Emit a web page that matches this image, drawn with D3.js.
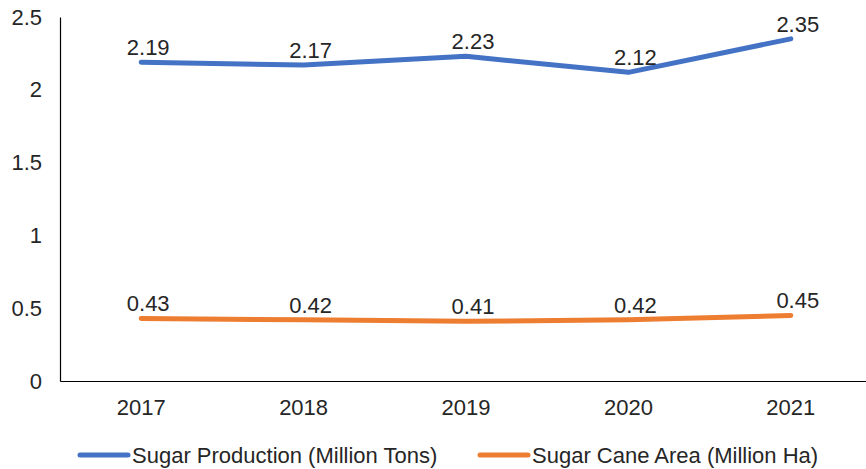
<!DOCTYPE html>
<html>
<head>
<meta charset="utf-8">
<script src="https://cdn.jsdelivr.net/npm/d3@7"></script>
<style>
  body { margin: 0; background: #fff; }
  text { font-family: "Liberation Sans", Arial, sans-serif; fill: #262626; }
</style>
</head>
<body>
<svg width="866" height="469"></svg>
<script>
var years = ["2017", "2018", "2019", "2020", "2021"];
var production = [2.19, 2.17, 2.23, 2.12, 2.35];
var caneArea = [0.43, 0.42, 0.41, 0.42, 0.45];
var yTicks = [0, 0.5, 1, 1.5, 2, 2.5];
var seriesNames = ["Sugar Production (Million Tons)", "Sugar Cane Area (Million Ha)"];
var colors = ["#4472C4", "#ED7D31"];

var svg = d3.select("svg");

// scales
var x = d3.scaleBand().domain(years).range([60, 872]);
var y = d3.scaleLinear().domain([0, 2.5]).range([381, 17]);

// y axis
svg.append("g")
   .attr("transform", "translate(60,0)")
   .call(d3.axisLeft(y).tickValues(yTicks).tickSize(0).tickPadding(18).tickFormat(function(d) { return d; }))
   .call(function(g) { g.select(".domain").attr("stroke", "#000").attr("stroke-width", 1.2); })
   .selectAll("text")
   .style("font-size", "22px")
   .attr("fill", "#262626");

// x axis
svg.append("g")
   .attr("transform", "translate(0,381)")
   .call(d3.axisBottom(x).tickSize(0).tickPadding(18))
   .call(function(g) { g.select(".domain").attr("stroke", "#000").attr("stroke-width", 1.2); })
   .selectAll("text")
   .style("font-size", "22px")
   .attr("fill", "#262626");

var series = [production, caneArea];

var line = d3.line()
    .x(function(d, i) { return x(years[i]) + x.bandwidth() / 2; })
    .y(function(d) { return y(d); });

series.forEach(function(vals, s) {
    svg.append("path")
       .datum(vals)
       .attr("d", line)
       .attr("fill", "none")
       .attr("stroke", colors[s])
       .attr("stroke-width", 5)
       .attr("stroke-linecap", "round")
       .attr("stroke-linejoin", "round");

    svg.selectAll(".lbl" + s)
       .data(vals)
       .enter().append("text")
       .attr("class", "lbl" + s)
       .attr("x", function(d, i) { return x(years[i]) + x.bandwidth() / 2 + 7; })
       .attr("y", function(d) { return y(d) - 7; })
       .attr("text-anchor", "middle")
       .style("font-size", "22px")
       .text(function(d) { return d.toFixed(2); });
});

// legend
var legendX = [80, 480];
seriesNames.forEach(function(name, s) {
    var lg = svg.append("g").attr("transform", "translate(" + legendX[s] + ",455)");
    lg.append("line")
      .attr("x1", 0).attr("x2", 48)
      .attr("stroke", colors[s])
      .attr("stroke-width", 5)
      .attr("stroke-linecap", "round");
    lg.append("text")
      .attr("x", 52)
      .attr("dy", "0.35em")
      .style("font-size", "22px")
      .text(name);
});
</script>
</body>
</html>
